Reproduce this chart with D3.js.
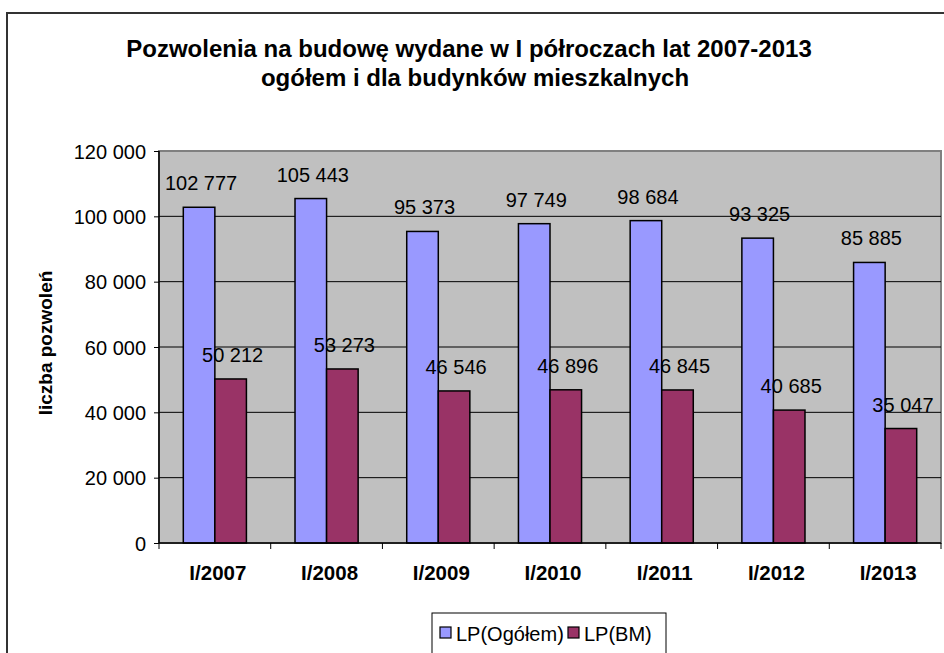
<!DOCTYPE html>
<html>
<head>
<meta charset="utf-8">
<script src="https://cdn.jsdelivr.net/npm/d3@7/dist/d3.min.js"></script>
<style>
body { margin: 0; background: #fff; }
text { font-family: Arial, 'Liberation Sans', sans-serif; fill: #000; }
.title { font-weight: bold; font-size: 24px; }
.ytitle { font-weight: bold; font-size: 19px; }
.cat { font-weight: bold; font-size: 20.5px; }
.ylab, .dlab, .leg { font-size: 20px; }
</style>
</head>
<body>
<svg width="944" height="653"></svg>
<script>
var svg = d3.select('svg');

// data
var categories = ['I/2007', 'I/2008', 'I/2009', 'I/2010', 'I/2011', 'I/2012', 'I/2013'];
var seriesNames = ['LP(Ogółem)', 'LP(BM)'];
var ogolem = [102777, 105443, 95373, 97749, 98684, 93325, 85885];
var bm = [50212, 53273, 46546, 46896, 46845, 40685, 35047];
var yTicks = [0, 20000, 40000, 60000, 80000, 100000, 120000];
var colors = ['#9999FF', '#993366'];

var plot = {l: 159, t: 151, r: 941, b: 543};

// outer chart frame (runs off the right and bottom edge)
svg.append('rect')
    .attr('x', 7).attr('y', 13)
    .attr('width', 960).attr('height', 700)
    .style('fill', 'none')
    .style('stroke', '#333')
    .style('stroke-width', 2);

// title
svg.append('text')
    .attr('class', 'title')
    .attr('text-anchor', 'middle')
    .attr('x', 469).attr('y', 57)
    .text('Pozwolenia na budowę wydane w I półroczach lat 2007-2013');
svg.append('text')
    .attr('class', 'title')
    .attr('text-anchor', 'middle')
    .attr('x', 475).attr('y', 86)
    .text('ogółem i dla budynków mieszkalnych');

var x0 = d3.scaleBand()
    .domain(categories)
    .range([plot.l, plot.r])
    .padding(0);
var x1 = d3.scaleBand()
    .domain(seriesNames)
    .range([0, x0.bandwidth()])
    .paddingInner(0)
    .paddingOuter(0.77);
var y = d3.scaleLinear()
    .domain([0, 120000])
    .range([plot.b, plot.t]);

var fmt = function(v){ return d3.format(',')(v).replace(/,/g, ' '); };

// plot background
svg.append('rect')
    .attr('x', plot.l).attr('y', plot.t)
    .attr('width', plot.r - plot.l).attr('height', plot.b - plot.t)
    .style('fill', '#C0C0C0')
    .style('stroke', '#808080')
    .style('stroke-width', 2);

// gridlines
svg.append('g')
    .selectAll('line')
    .data(yTicks.slice(1, -1))
    .enter().append('line')
    .attr('x1', plot.l).attr('x2', plot.r)
    .attr('y1', function(d){ return y(d); })
    .attr('y2', function(d){ return y(d); })
    .style('stroke', '#000')
    .style('stroke-width', 1);

// bars
var rows = categories.map(function(c, i){
    return {cat: c, vals: [{s: seriesNames[0], v: ogolem[i], k: 0}, {s: seriesNames[1], v: bm[i], k: 1}]};
});
var groups = svg.append('g')
    .selectAll('g')
    .data(rows)
    .enter().append('g')
    .attr('transform', function(d){ return 'translate(' + x0(d.cat) + ',0)'; });
groups.selectAll('rect')
    .data(function(d){ return d.vals; })
    .enter().append('rect')
    .attr('x', function(d){ return x1(d.s); })
    .attr('y', function(d){ return y(d.v); })
    .attr('width', x1.bandwidth())
    .attr('height', function(d){ return plot.b - y(d.v); })
    .style('fill', function(d){ return colors[d.k]; })
    .style('stroke', '#000')
    .style('stroke-width', 1.5);

// data labels
groups.selectAll('text')
    .data(function(d){ return d.vals; })
    .enter().append('text')
    .attr('class', 'dlab')
    .attr('text-anchor', 'middle')
    .attr('x', function(d){ return x1(d.s) + x1.bandwidth() / 2 + 2; })
    .attr('y', function(d){ return y(d.v) - 17; })
    .text(function(d){ return fmt(d.v); });

// y axis
var yAxis = svg.append('g')
    .attr('transform', 'translate(' + plot.l + ',0)')
    .call(d3.axisLeft(y).tickValues(yTicks).tickSize(5).tickPadding(8).tickFormat(fmt));
yAxis.select('.domain').attr('d', 'M0,' + plot.t + 'V' + plot.b).style('stroke', '#000').style('stroke-width', 1.5);
yAxis.selectAll('.tick line').style('stroke', '#000');
yAxis.selectAll('.tick text')
    .attr('class', 'ylab')
    .attr('dy', '0.36em');
yAxis.attr('font-family', null).attr('font-size', null);

// x axis baseline and boundary ticks
svg.append('line')
    .attr('x1', plot.l).attr('x2', plot.r)
    .attr('y1', plot.b).attr('y2', plot.b)
    .style('stroke', '#000')
    .style('stroke-width', 1.5);
var bounds = categories.map(function(c){ return x0(c); }).concat([plot.r]);
svg.append('g')
    .selectAll('line')
    .data(bounds)
    .enter().append('line')
    .attr('x1', function(d){ return d; })
    .attr('x2', function(d){ return d; })
    .attr('y1', plot.b).attr('y2', plot.b + 6)
    .style('stroke', '#000');
svg.append('g')
    .selectAll('text')
    .data(categories)
    .enter().append('text')
    .attr('class', 'cat')
    .attr('text-anchor', 'middle')
    .attr('x', function(d){ return x0(d) + x0.bandwidth() / 2 + 3; })
    .attr('y', 580)
    .text(function(d){ return d; });

// y axis title
svg.append('text')
    .attr('class', 'ytitle')
    .attr('text-anchor', 'middle')
    .attr('transform', 'translate(52,343) rotate(-90)')
    .text('liczba pozwoleń');

// legend
var leg = svg.append('g').attr('transform', 'translate(432,613)');
leg.append('rect')
    .attr('width', 234).attr('height', 44)
    .style('fill', '#fff')
    .style('stroke', '#000')
    .style('stroke-width', 1);
var legX = [8, 136];
seriesNames.forEach(function(s, i){
    leg.append('rect')
        .attr('x', legX[i]).attr('y', 14)
        .attr('width', 11).attr('height', 11)
        .style('fill', colors[i])
        .style('stroke', '#000')
        .style('stroke-width', 1.2);
    leg.append('text')
        .attr('class', 'leg')
        .attr('x', legX[i] + 16).attr('y', 28)
        .text(s);
});
</script>
</body>
</html>
